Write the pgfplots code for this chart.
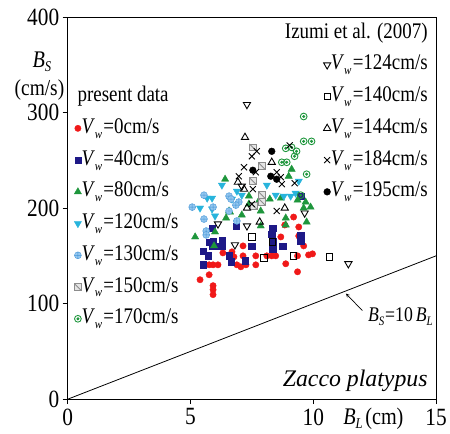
\documentclass[border=0pt]{standalone}
\usepackage{fontspec}
\setmainfont{Liberation Serif}
\usepackage{graphicx}
\usepackage{pgfplots}
\pgfplotsset{compat=1.18}

\definecolor{cRed}{RGB}{240,25,25}
\definecolor{cNavy}{RGB}{30,25,135}
\definecolor{cGreen}{RGB}{30,150,60}
\definecolor{cCyan}{RGB}{40,180,220}
\definecolor{cBlue}{RGB}{70,150,215}
\definecolor{cBlueF}{RGB}{150,200,240}
\definecolor{cGray}{RGB}{140,140,140}

\pgfdeclareplotmark{sqslash}{%
  \pgfpathrectangle{\pgfqpoint{-\pgfplotmarksize}{-\pgfplotmarksize}}{\pgfqpoint{2\pgfplotmarksize}{2\pgfplotmarksize}}%
  \pgfusepathqfillstroke
  \pgfpathmoveto{\pgfqpoint{-\pgfplotmarksize}{\pgfplotmarksize}}%
  \pgfpathlineto{\pgfqpoint{\pgfplotmarksize}{-\pgfplotmarksize}}%
  \pgfusepathqstroke}
\pgfdeclareplotmark{cdot}{%
  \pgfpathcircle{\pgfpointorigin}{\pgfplotmarksize}%
  \pgfusepathqstroke
  \pgfpathcircle{\pgfpointorigin}{0.3\pgfplotmarksize}%
  \pgfusepathqfillstroke}

\newcommand{\sx}[1]{\scalebox{0.85}[1]{#1}}
\newcommand{\Vw}[1]{\sx{\textit{V}\raisebox{-5pt}{\fontsize{13}{13}\selectfont\textit{w}}\hspace{1.5pt}=#1cm/s}}

\pgfplotsset{
  base/.style={
    scale only axis, width=370bp, height=384bp,
    xmin=0, xmax=15, ymin=0, ymax=400,
    at={(0,0)}, anchor=south west, clip=false,
    legend image code/.code={\draw[mark repeat=2,mark phase=2,##1] plot coordinates {(0pt,0pt)(6pt,0pt)(18pt,0pt)};},
  },
}

\begin{document}
\begin{tikzpicture}
\begin{axis}[base,
  axis line style={line width=0.8pt},
  tick pos=left, tick align=outside,
  major tick length=5pt,
  tick style={line width=0.8pt, black},
  xtick={0,5,10,15}, ytick={0,100,200,300,400},
  /pgf/number format/assume math mode=true,
  ticklabel style={font=\fontsize{25}{25}\selectfont},
  xticklabel={\scalebox{0.86}[1]{\pgfmathprintnumber{\tick}}},
  yticklabel={\scalebox{0.86}[1]{\pgfmathprintnumber{\tick}}},
  xticklabel style={yshift=-1pt},
  legend style={at={(0.011,0.818)}, anchor=north west, draw=none, fill=none,
    inner sep=0pt, row sep=12pt, font=\fontsize{22.5}{22.5}\selectfont,
    nodes={inner sep=0pt, text height=15pt, text depth=5pt}},
  legend cell align=left,
]
\addplot[black, line width=0.8pt, forget plot] coordinates {(0,0) (15,150)};

\addlegendimage{empty legend}
\addlegendentry{\hspace*{-4pt}\sx{present data}}

\addplot[only marks, mark=*, mark size=3.2pt, draw=cRed, fill=cRed] coordinates {
(5.39,125) (5.76,130.2) (5.92,118.8) (5.92,114.6) (5.92,109.4) (5.76,140.6) (5.92,140.6) (6.12,140.6)
(6.32,153.1) (6.69,154.2) (6.77,149) (6.89,140.6) (7.14,160.4) (7.14,150) (7.05,138.5) (7.26,140.6)
(7.66,150) (7.66,140.6) (8.11,150) (8.31,150) (8.47,150) (8.68,169.8) (8.84,182.3) (8.88,141.7)
(9.20,190.6) (9.36,133.3) (9.41,180.2) (9.41,170.8) (9.61,160.4) (9.36,150) (9.81,151) (9.97,152.1)
};
\addlegendentry{\Vw{0}}

\addplot[only marks, mark=square*, mark size=3.2pt, draw=cNavy, fill=cNavy] coordinates {
(5.51,155.2) (5.72,150) (5.51,140.6) (5.76,164.6) (5.92,165.6) (5.88,160.4) (6.08,160.4) (6.28,160.4)
(6.28,166.7) (6.57,150) (6.65,143.8) (6.85,181.3) (7.22,144.8) (7.50,160.4) (8.35,179.2) (8.31,172.9)
(8.35,165.6) (8.35,157.3) (8.76,160.4) (9.49,212.5) (9.49,171.9) (9.49,165.6) (5.88,179.2)
};
\addlegendentry{\Vw{40}}

\addplot[only marks, mark=triangle*, mark size=4.2pt, draw=cGreen, fill=cGreen] coordinates {
(5.19,169.8) (6.00,175) (5.96,160.4) (6.57,196.9) (7.09,192.7) (7.86,181.3) (7.86,196.9) (6.45,189.6)
(6.61,195.8) (7.38,204.2) (8.23,209.4) (8.68,210.4) (8.88,189.6) (8.88,182.3) (9.73,185.4) (9.89,201)
(9.36,208.3) (6.41,230.2) (7.38,212.5) (9.12,240.6) (9.00,233.3) (9.69,206.3) (9.61,200) (7.78,207.3)
};
\addlegendentry{\Vw{80}}

\addplot[only marks, mark=triangle*, mark size=4.2pt, mark options={rotate=180}, draw=cCyan, fill=cCyan] coordinates {
(5.68,210.4) (5.88,210.4) (6.28,224) (5.39,200) (5.88,199) (6.69,209.4) (7.09,213.5) (8.11,224)
(8.47,213.5) (8.80,212.5) (9.08,212.5) (9.28,215.6) (9.41,228.1) (6.00,191.7) (6.89,217.7)
};
\addlegendentry{\Vw{120}}

\addplot[only marks, mark=oplus*, mark size=3.5pt, draw=cBlue, fill=cBlueF] coordinates {
(5.55,213.5) (6.57,212.5) (5.07,201) (5.92,201) (6.97,206.3) (5.55,188.5) (6.65,209.4) (6.85,203.1)
(6.57,196.9) (5.64,176) (5.64,171.9) (6.89,186.5)
};
\addlegendentry{\Vw{130}}

\addplot[only marks, mark=sqslash, mark size=3.4pt, draw=cGray, fill=gray!20, line width=0.9pt] coordinates {
(7.54,263.5) (7.91,243.8) (7.54,228.1) (7.91,213.5) (7.91,206.3) (7.58,202.1)
};
\addlegendentry{\Vw{150}}

\addplot[only marks, mark=cdot, mark size=3.4pt, draw=cGreen, fill=cGreen, line width=0.9pt] coordinates {
(9.61,295.8) (9.61,269.8) (9.93,269.8) (8.88,262.5) (9.12,263.5) (9.32,259.4) (9.24,254.2) (8.72,247.9)
(8.92,247.9) (9.73,235.4) (9.49,213.5)
};
\addlegendentry{\Vw{170}}

\draw[-stealth, line width=0.7pt] (axis cs:12.0,92.7) -- (axis cs:11.33,110.5);
\node[font=\fontsize{21}{21}\selectfont] at (axis cs:13.55,86.5) {\sx{\textit{B}\raisebox{-4pt}{\fontsize{13}{13}\selectfont\textit{S}}\hspace{1pt}=10\,\textit{B}\raisebox{-4pt}{\fontsize{13}{13}\selectfont\textit{L}}}};
\node[anchor=east, font=\fontsize{24}{24}\selectfont\itshape] at (axis cs:14.8,19) {Zacco platypus};
\node[font=\fontsize{24}{24}\selectfont] at (axis cs:-1.05,353) {\sx{\textit{B}\raisebox{-4pt}{\fontsize{15}{15}\selectfont\textit{S}}}};
\node[font=\fontsize{23}{23}\selectfont] at (axis cs:-1.15,324) {\sx{(cm/s)}};
\node[font=\fontsize{24}{24}\selectfont] at (axis cs:12.45,-20.8) {\sx{\textit{B}\raisebox{-4pt}{\fontsize{15}{15}\selectfont\textit{L}}\hspace{3pt}(cm)}};
\end{axis}

\begin{axis}[base, hide axis,
  legend style={at={(0.978,0.984)}, anchor=north east, draw=none, fill=none,
    inner sep=0pt, row sep=12pt, font=\fontsize{22.5}{22.5}\selectfont,
    nodes={inner sep=0pt, text height=15pt, text depth=5pt}},
  legend cell align=left,
]
\addlegendimage{empty legend}
\addlegendentry{\hphantom{\Vw{124}}\llap{\sx{Izumi et al. (2007)}}}

\addplot[only marks, mark=triangle, mark size=4.2pt, mark options={rotate=180}, draw=black, line width=0.9pt] coordinates {
(7.30,308.3) (6.12,183.3) (6.81,161.5) (7.30,181.3) (9.65,194.8) (11.43,141.7) (7.09,222.9)
};
\addlegendentry{\Vw{124}}

\addplot[only marks, mark=square, mark size=3.2pt, draw=black, line width=0.9pt] coordinates {
(7.50,169.8) (8.35,164.6) (7.99,147.9) (9.20,150) (10.66,149)
};
\addlegendentry{\Vw{140}}

\addplot[only marks, mark=triangle, mark size=4.2pt, draw=black, line width=0.9pt] coordinates {
(7.22,274) (8.31,247.9) (6.93,227.1) (7.18,219.8) (7.30,200) (7.82,185.4) (8.84,200)
};
\addlegendentry{\Vw{144}}

\addplot[only marks, mark=x, mark size=4.3pt, draw=black, line width=0.9pt] coordinates {
(7.50,254.2) (7.70,259.4) (7.18,242.7) (6.97,233.3) (7.66,237.5) (8.51,237.5) (8.68,232.3) (8.72,225)
(9.24,226) (9.04,265.6) (7.54,219.8) (7.50,204.2) (8.51,196.9)
};
\addlegendentry{\Vw{184}}

\addplot[only marks, mark=*, mark size=3.4pt, draw=black, fill=black] coordinates {
(8.31,259.4) (7.54,239.6) (8.27,233.3) (8.51,230.2)
};
\addlegendentry{\Vw{195}}
\end{axis}
\path[use as bounding box] (-68bp,-34bp) rectangle (382bp,401bp);
\end{tikzpicture}
\end{document}
